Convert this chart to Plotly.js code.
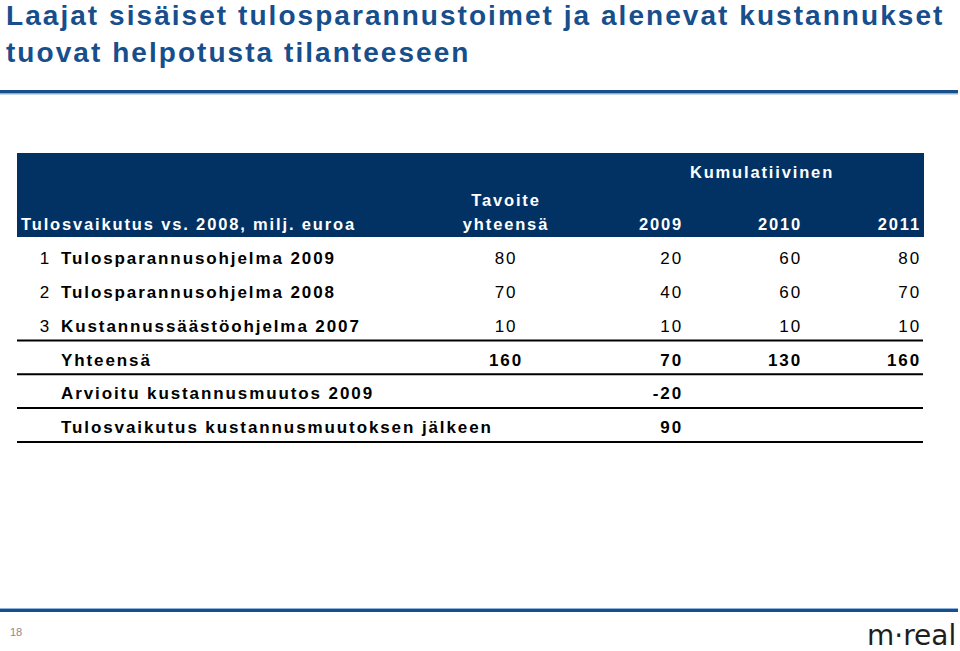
<!DOCTYPE html>
<html>
<head>
<meta charset="utf-8">
<script src="https://cdn.plot.ly/plotly-3.0.1.min.js"></script>
<style>
  html, body { margin: 0; padding: 0; background: #fff; }
  #chart { width: 960px; height: 651px; }
  /* the slide font is set wider than Arial: open it up a little */
  .scatterlayer .trace .textpoint text { letter-spacing: 1.9px; }
  .scatterlayer .trace:nth-child(7) .textpoint text { letter-spacing: 1.85px; }
  .scatterlayer .trace:nth-child(8) .textpoint text { letter-spacing: 2.05px; }
</style>
</head>
<body>
<div id="chart"></div>
<script>
// Table contents
const rowNums = ['1', '2', '3', '', '', ''];
const rowLabels = [
    'Tulosparannusohjelma 2009',
    'Tulosparannusohjelma 2008',
    'Kustannussäästöohjelma 2007',
    'Yhteensä',
    'Arvioitu kustannusmuutos 2009',
    'Tulosvaikutus kustannusmuutoksen jälkeen'
];
const target = [80, 70, 10, 160, null, null];
const cum2009 = [20, 40, 10, 70, -20, 90];
const cum2010 = [60, 60, 10, 130, null, null];
const cum2011 = [80, 70, 10, 160, null, null];
const boldFrom = 3; // summary rows are bold

const headLabel = 'Tulosvaikutus vs. 2008, milj. euroa';
const headTarget = ['Tavoite', 'yhteensä'];
const headGroup = 'Kumulatiivinen';
const headYears = ['2009', '2010', '2011'];

const titleLines = [
    'Laajat sisäiset tulosparannustoimet ja alenevat kustannukset',
    'tuovat helpotusta tilanteeseen'
];

// Layout (pixel-space axes)
const FONT = 'Liberation Sans, Arial, sans-serif';
const rowTop = 260, rowStep = 33.8;
const rowY = rowLabels.map((_, i) => rowTop + i * rowStep);
const colX = { num: 51, label: 61, target: 506, y2009: 683, y2010: 802, y2011: 921 };
const lineAfter = [2, 3, 4, 5];

function fmt(vals) {
    return vals.map((v, i) => {
        if (v === null) return '';
        return i >= boldFrom ? '<b>' + v + '</b>' : String(v);
    });
}

function textTrace(x, text, pos) {
    return {
        x: rowY.map(() => x),
        y: rowY,
        text: text,
        mode: 'text',
        type: 'scatter',
        textposition: pos,
        textfont: { family: FONT, size: 17, color: '#000' },
        hoverinfo: 'none',
        showlegend: false,
        cliponaxis: false
    };
}

const traces = [
    textTrace(colX.num, rowNums, 'middle left'),
    textTrace(colX.label, rowLabels.map(s => '<b>' + s + '</b>'), 'middle right'),
    textTrace(colX.target, fmt(target), 'middle center'),
    textTrace(colX.y2009, fmt(cum2009), 'middle left'),
    textTrace(colX.y2010, fmt(cum2010), 'middle left'),
    textTrace(colX.y2011, fmt(cum2011), 'middle left')
];

// header row (white on navy)
traces.push({
    x: [21, 506, 506, 762, colX.y2009, colX.y2010, colX.y2011],
    y: [226, 202, 226, 174, 226, 226, 226],
    text: [headLabel, headTarget[0], headTarget[1], headGroup].concat(headYears),
    textposition: ['middle right', 'middle center', 'middle center', 'middle center',
        'middle left', 'middle left', 'middle left'],
    mode: 'text',
    type: 'scatter',
    textfont: { family: FONT, size: 16.5, color: '#fff', weight: 'bold' },
    hoverinfo: 'none',
    showlegend: false,
    cliponaxis: false
});

// slide title
traces.push({
    x: [6, 6],
    y: [18, 55],
    text: titleLines,
    textposition: 'middle right',
    mode: 'text',
    type: 'scatter',
    textfont: { family: FONT, size: 28, color: '#174e8c', weight: 'bold' },
    hoverinfo: 'none',
    showlegend: false,
    cliponaxis: false
});

const shapes = [
    // title rule
    { type: 'rect', xref: 'x', yref: 'y', x0: 0, x1: 958, y0: 90, y1: 93.5, fillcolor: '#174e8c', line: { width: 0 } },
    { type: 'line', xref: 'x', yref: 'y', x0: 0, x1: 958, y0: 94, y1: 94, line: { color: '#8fb3dc', width: 1 } },
    // footer rule
    { type: 'line', xref: 'x', yref: 'y', x0: 0, x1: 958, y0: 608.5, y1: 608.5, line: { color: '#8fb3dc', width: 1 } },
    { type: 'rect', xref: 'x', yref: 'y', x0: 0, x1: 958, y0: 609, y1: 612, fillcolor: '#174e8c', line: { width: 0 } },
    // header block, behind the header text
    { type: 'rect', xref: 'x', yref: 'y', layer: 'below', x0: 17, x1: 924, y0: 153, y1: 237, fillcolor: '#023263', line: { width: 0 } }
];
lineAfter.forEach(i => {
    const y = rowY[i] + rowStep / 2 - 4;
    shapes.push({ type: 'line', xref: 'x', yref: 'y', x0: 17, x1: 923, y0: y, y1: y, line: { color: '#000', width: 2 } });
});

const annotations = [
    {
        text: '18', x: 8, y: 632, xref: 'x', yref: 'y', xanchor: 'left', yanchor: 'middle',
        showarrow: false, font: { family: FONT, size: 11, color: '#8a8a8a' }
    },
    {
        text: 'm·real', x: 958, y: 635, xref: 'x', yref: 'y', xanchor: 'right', yanchor: 'middle',
        showarrow: false, font: { family: 'DejaVu Sans, sans-serif', size: 28, color: '#1e1e1e' }
    }
];

const layout = {
    width: 960,
    height: 651,
    margin: { t: 0, r: 0, b: 0, l: 0 },
    paper_bgcolor: '#fff',
    plot_bgcolor: 'rgba(0,0,0,0)',
    xaxis: { range: [0, 960], visible: false, fixedrange: true },
    yaxis: { range: [651, 0], visible: false, fixedrange: true },
    shapes: shapes,
    annotations: annotations,
    showlegend: false
};

Plotly.newPlot('chart', traces, layout, { displayModeBar: false, staticPlot: true });
</script>
</body>
</html>
